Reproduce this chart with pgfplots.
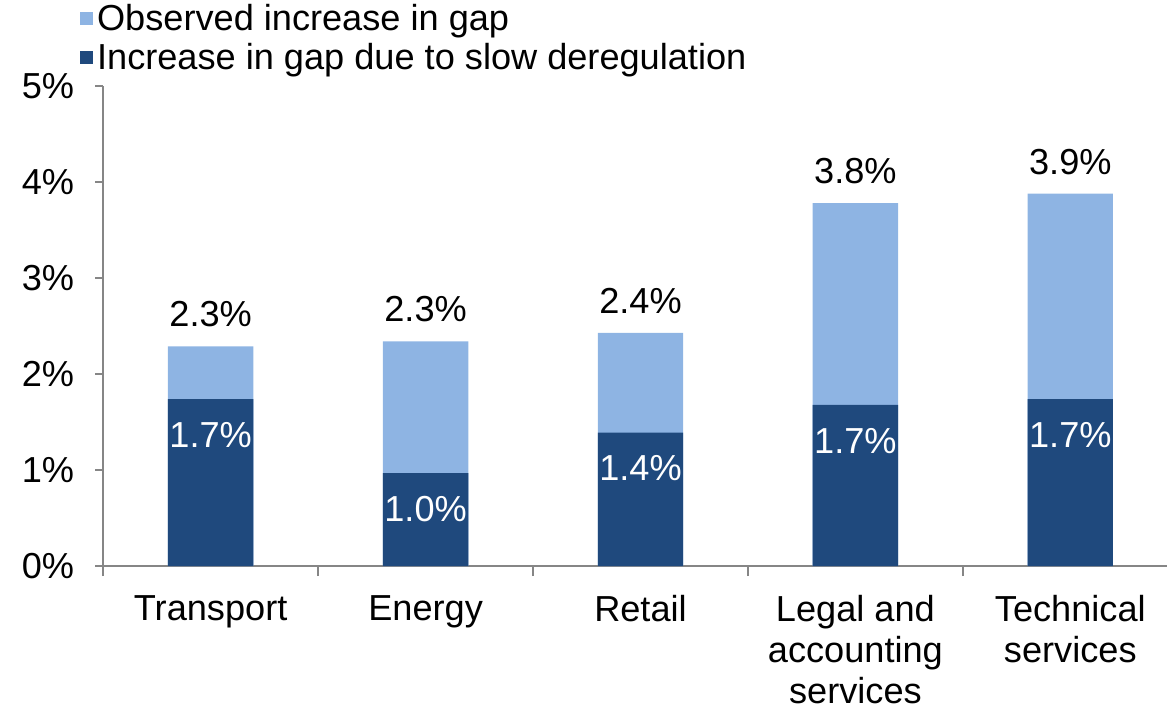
\documentclass[border=0pt]{standalone}
\usepackage{pgfplots}
\pgfplotsset{compat=1.18}
\usepackage{fontspec}
\setmainfont{Liberation Sans}
\definecolor{lightbar}{HTML}{8EB4E3}
\definecolor{darkbar}{HTML}{1F497D}
\definecolor{axisgray}{HTML}{868686}
\begin{document}
\begin{tikzpicture}
\begin{axis}[
    scale only axis,
    width=529.5pt, height=239pt,
    xmin=-0.5, xmax=4.45,
    ymin=0, ymax=5,
    axis x line*=bottom, axis y line*=left,
    axis line style={axisgray, line width=1pt, -},
    ytick={0,1,2,3,4,5},
    yticklabel={\pgfmathprintnumber{\tick}\%},
    /pgf/number format/assume math mode=true,
    xtick={0,1,2,3,4},
    xticklabels={Transport, Energy, Retail, {Legal and\\accounting\\services}, {Technical\\services}},
    minor xtick={-0.5,0.5,1.5,2.5,3.5},
    tick align=outside,
    major tick length=4pt,
    minor tick length=5pt,
    x tick style={draw=none},
    minor x tick style={draw=axisgray, line width=1pt},
    y tick style={axisgray, line width=1pt},
    tick label style={font=\fontsize{18}{20.5}\selectfont, black},
    xticklabel style={align=center, yshift=-7pt},
    yticklabel style={xshift=-7pt},
    ybar, bar width=42.5pt, bar shift=0pt,
    legend style={
        at={(axis description cs:-0.022,1.18)},
        anchor=north west,
        draw=none, fill=none,
        font=\fontsize{18}{20.5}\selectfont,
        row sep=1pt,
        inner sep=0pt,
    },
    legend cell align=left,
    legend image code/.code={\fill[#1] (0pt,-3.2pt) rectangle (6.4pt,3.2pt);},
    clip=false,
]
% observed increase in gap (total)
\addplot[fill=lightbar, draw=none,
    nodes near coords={\pgfmathprintnumber[fixed,precision=1,fixed zerofill]{\pgfplotspointmeta}\%},
    every node near coord/.append style={font=\fontsize{18}{20.5}\selectfont, black, anchor=south, yshift=6pt}]
    coordinates {(0,2.29) (1,2.34) (2,2.43) (3,3.78) (4,3.88)};
\addlegendentry{Observed increase in gap}
% part due to slow deregulation
\addplot[fill=darkbar, draw=none,
    nodes near coords={\pgfmathprintnumber[fixed,precision=1,fixed zerofill]{\pgfplotspointmeta}\%},
    every node near coord/.append style={font=\fontsize{18}{20.5}\selectfont, white, anchor=north, yshift=-8pt}]
    coordinates {(0,1.74) (1,0.97) (2,1.39) (3,1.68) (4,1.74)};
\addlegendentry{Increase in gap due to slow deregulation}
\end{axis}
% a little blank room on the left, as in the reference
\path (current bounding box.west) ++(-7.5pt,0) coordinate (padleft);
\end{tikzpicture}
\end{document}
